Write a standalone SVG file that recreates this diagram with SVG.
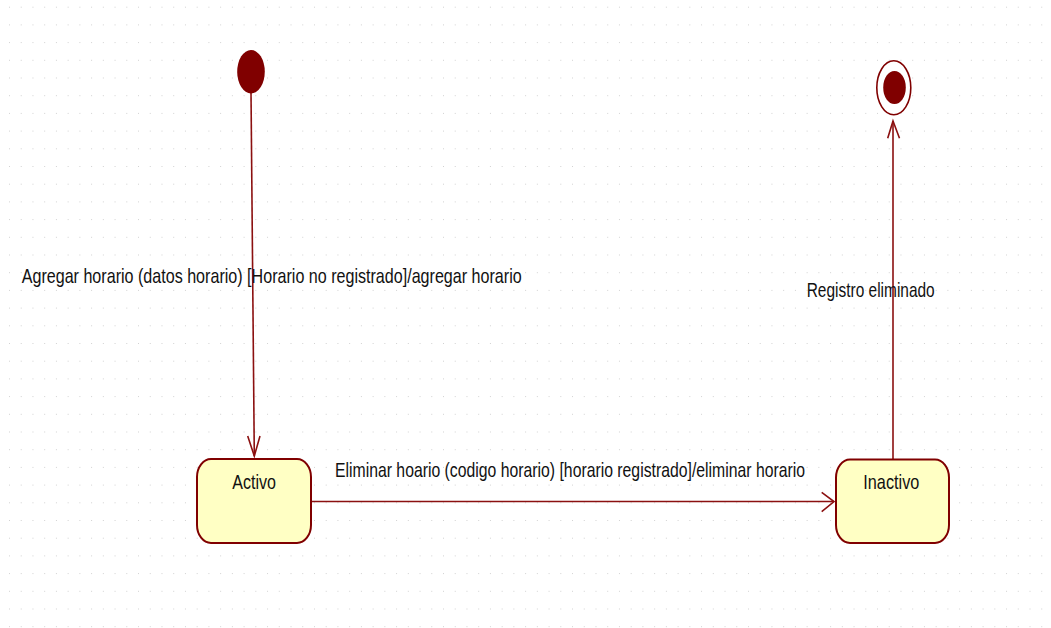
<svg xmlns="http://www.w3.org/2000/svg" width="1051" height="628" viewBox="0 0 1051 628">
<style>
.lbl{font-family:"Liberation Sans",Arial,sans-serif;font-size:15px;fill:#111;}
.state{fill:#FFFFC4;stroke:#800000;stroke-width:2;}
.conn{fill:none;stroke:#8B1010;stroke-width:1.6;}
.head{fill:none;stroke:#8B1010;stroke-width:1.6;stroke-linejoin:miter;}
</style>
<defs>
<pattern id="grid" x="9" y="6.7" width="11.73" height="17.7" patternUnits="userSpaceOnUse">
<rect x="-0.6" y="-1" width="1.2" height="2" fill="#b4b4b4"/>
</pattern>
</defs>
<rect width="1051" height="628" fill="#ffffff"/>
<rect width="1051" height="628" fill="url(#grid)"/>
<g id="connectors">
<g id="t-initial-activo">
<line class="conn" x1="251" y1="92" x2="254.3" y2="456"/>
<polyline class="head" points="247.7,436 254.3,456 260,436"/>
<text class="lbl" transform="translate(21.7,283.3) scale(1,1.4)" x="0" y="0" textLength="500" lengthAdjust="spacingAndGlyphs">Agregar horario (datos horario) [Horario no registrado]/agregar horario</text>
</g>
<g id="t-activo-inactivo">
<line class="conn" x1="312" y1="501.5" x2="834" y2="501.5"/>
<polyline class="head" points="821.7,492.3 834,501.5 821.7,511.7"/>
<text class="lbl" transform="translate(335,477.3) scale(1,1.4)" x="0" y="0" textLength="470" lengthAdjust="spacingAndGlyphs">Eliminar hoario (codigo horario) [horario registrado]/eliminar horario</text>
</g>
<g id="t-inactivo-final">
<line class="conn" x1="893" y1="459" x2="893" y2="121"/>
<polyline class="head" points="887.7,138.3 893,121 899.5,138.3"/>
<text class="lbl" transform="translate(806.7,296.7) scale(1,1.4)" x="0" y="0" textLength="128" lengthAdjust="spacingAndGlyphs">Registro eliminado</text>
</g>
</g>
<g id="initial">
<ellipse cx="251" cy="71.7" rx="13.8" ry="21.7" fill="#800000"/>
</g>
<g id="activo">
<rect class="state" x="197" y="459" width="114" height="84" rx="14" ry="18"/>
<text class="lbl" transform="translate(232.3,488.5) scale(1,1.4)" x="0" y="0" textLength="43.7" lengthAdjust="spacingAndGlyphs">Activo</text>
</g>
<g id="inactivo">
<rect class="state" x="836" y="459.5" width="113" height="83.5" rx="14" ry="18"/>
<text class="lbl" transform="translate(863.3,488.5) scale(1,1.4)" x="0" y="0" textLength="56" lengthAdjust="spacingAndGlyphs">Inactivo</text>
</g>
<g id="final">
<ellipse cx="893.8" cy="87.8" rx="17" ry="27" fill="none" stroke="#800000" stroke-width="1.6"/>
<ellipse cx="894.5" cy="87.5" rx="11.3" ry="16.5" fill="#800000"/>
</g>
</svg>
